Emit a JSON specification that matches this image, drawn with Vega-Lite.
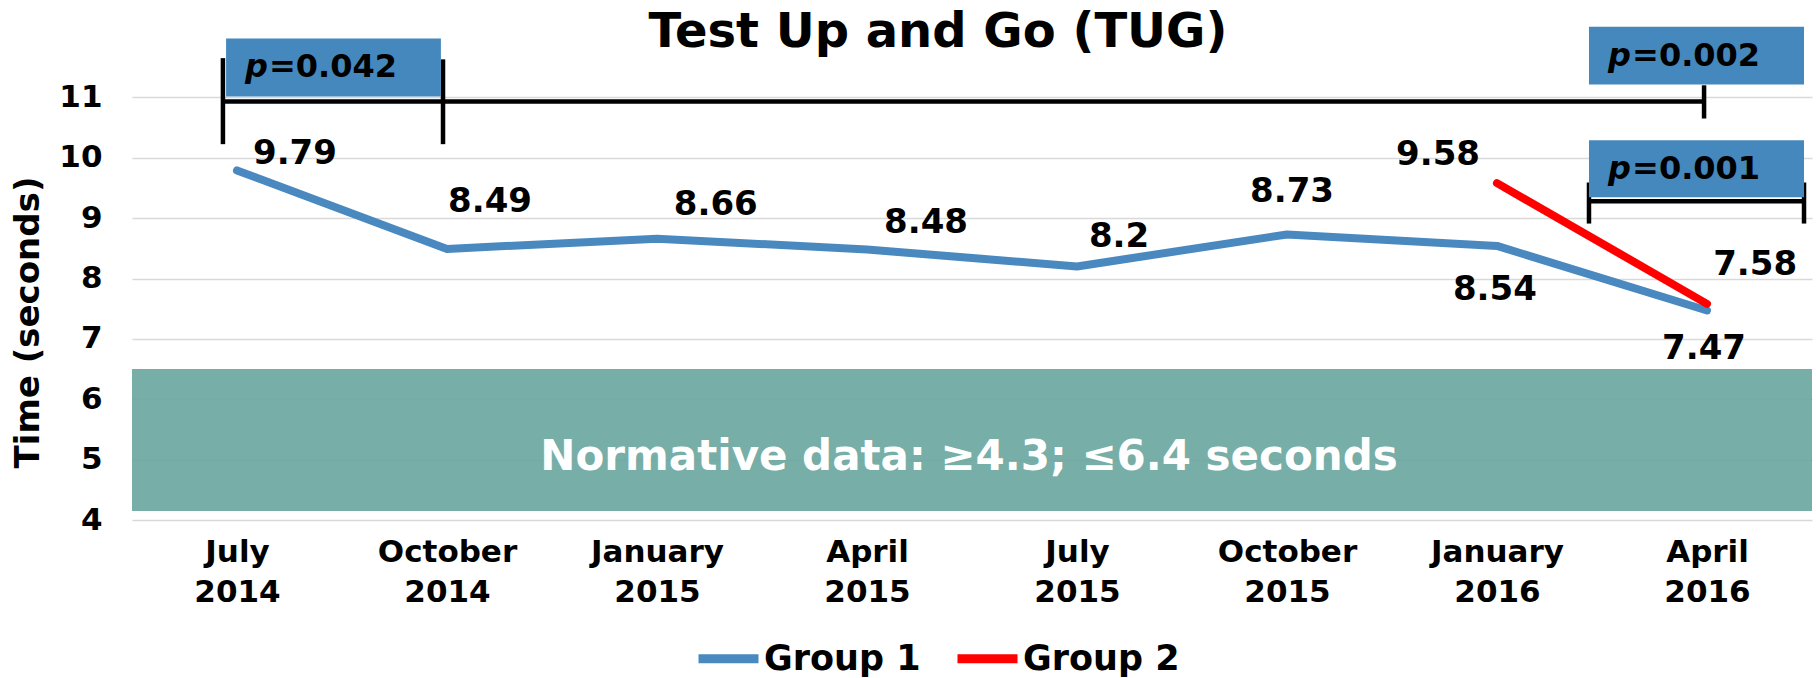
{
  "$schema": "https://vega.github.io/schema/vega-lite/v6.json",
  "width": 1680,
  "height": 483,
  "autosize": {"type": "none"},
  "padding": {"left": 132, "top": 37, "right": 4, "bottom": 158},
  "background": "white",
  "config": {"view": {"stroke": null}, "font": "DejaVu Sans"},
  "datasets": {
    "series": [
      {"period": "July 2014", "idx": 0, "group": "Group 1", "value": 9.79, "lx": 0.276, "ly": 10.065},
      {"period": "October 2014", "idx": 1, "group": "Group 1", "value": 8.49, "lx": 1.205, "ly": 9.26},
      {"period": "January 2015", "idx": 2, "group": "Group 1", "value": 8.66, "lx": 2.28, "ly": 9.21},
      {"period": "April 2015", "idx": 3, "group": "Group 1", "value": 8.48, "lx": 3.281, "ly": 8.915},
      {"period": "July 2015", "idx": 4, "group": "Group 1", "value": 8.2, "lx": 4.2, "ly": 8.68},
      {"period": "October 2015", "idx": 5, "group": "Group 1", "value": 8.73, "lx": 5.024, "ly": 9.43},
      {"period": "January 2016", "idx": 6, "group": "Group 1", "value": 8.54, "lx": 5.99, "ly": 7.81},
      {"period": "April 2016", "idx": 7, "group": "Group 1", "value": 7.47, "lx": 6.986, "ly": 6.83},
      {"period": "January 2016", "idx": 6, "group": "Group 2", "value": 9.58, "lx": 5.719, "ly": 10.04},
      {"period": "April 2016", "idx": 7, "group": "Group 2", "value": 7.58, "lx": 7.229, "ly": 8.22}
    ],
    "band": [
      {"low": 4.15, "high": 6.5, "note": "Normative data: ≥4.3; ≤6.4 seconds", "tx": 3.486, "ty": 5.05}
    ],
    "brackets": [
      {"x": -0.067, "x2": 6.986, "y": 10.93, "y2": 10.93},
      {"x": -0.067, "x2": -0.067, "y": 10.225, "y2": 11.65},
      {"x": 0.981, "x2": 0.981, "y": 10.225, "y2": 11.63},
      {"x": 6.986, "x2": 6.986, "y": 10.65, "y2": 11.2},
      {"x": 6.438, "x2": 7.462, "y": 9.28, "y2": 9.28},
      {"x": 6.438, "x2": 6.438, "y": 8.91, "y2": 9.59},
      {"x": 7.462, "x2": 7.462, "y": 8.91, "y2": 9.59}
    ],
    "pboxes": [
      {"x1": -0.052, "x2": 0.971, "y1": 11.016, "y2": 11.976, "px": 0.038, "py": 11.5, "pval": "=0.042"},
      {"x1": 6.438, "x2": 7.462, "y1": 11.215, "y2": 12.17, "px": 6.529, "py": 11.69, "pval": "=0.002"},
      {"x1": 6.438, "x2": 7.462, "y1": 9.345, "y2": 10.29, "px": 6.529, "py": 9.82, "pval": "=0.001"}
    ],
    "heading": [
      {"title": "Test Up and Go (TUG)", "tx": 3.338, "ty": 12.06}
    ]
  },
  "layer": [
    {
      "data": {"name": "band"},
      "mark": {"type": "rect", "color": "#68A59D", "opacity": 0.9},
      "encoding": {
        "y": {"field": "low", "type": "quantitative", "scale": {"domain": [4, 12], "nice": false, "zero": false}, "title": "Time (seconds)"},
        "y2": {"field": "high"}
      }
    },
    {
      "data": {"name": "band"},
      "mark": {"type": "text", "color": "white", "fontWeight": "bold", "fontSize": 42, "align": "center", "baseline": "middle"},
      "encoding": {
        "x": {"field": "tx", "type": "quantitative", "scale": {"domain": [-0.5, 7.5], "nice": false, "zero": false}, "title": null},
        "y": {"field": "ty", "type": "quantitative", "scale": {"domain": [4, 12], "nice": false, "zero": false}, "title": "Time (seconds)"},
        "text": {"field": "note"}
      }
    },
    {
      "data": {"name": "series"},
      "mark": {"type": "line", "strokeWidth": 8, "strokeCap": "round", "strokeJoin": "round"},
      "encoding": {
        "x": {
          "field": "idx", "type": "quantitative",
          "scale": {"domain": [-0.5, 7.5], "nice": false, "zero": false},
          "title": null,
          "axis": {
            "values": [0, 1, 2, 3, 4, 5, 6, 7],
            "labelExpr": "split(['July 2014','October 2014','January 2015','April 2015','July 2015','October 2015','January 2016','April 2016'][datum.value], ' ')",
            "grid": false, "domain": false, "ticks": false,
            "labelPadding": 17, "labelFontSize": 31, "labelFontWeight": "bold", "labelColor": "black",
            "labelLineHeight": 40, "labelFlush": false, "labelOverlap": false, "labelFont": "DejaVu Sans"
          }
        },
        "y": {
          "field": "value", "type": "quantitative",
          "scale": {"domain": [4, 12], "nice": false, "zero": false},
          "title": "Time (seconds)",
          "axis": {
            "values": [4, 5, 6, 7, 8, 9, 10, 11],
            "format": "d",
            "grid": true, "gridColor": "#D9D9D9", "gridWidth": 1.5,
            "domain": false, "ticks": false,
            "labelPadding": 30, "labelFontSize": 31, "labelFontWeight": "bold", "labelColor": "black", "labelFont": "DejaVu Sans",
            "titleFontSize": 34, "titleFontWeight": "bold", "titleColor": "black", "titleFont": "DejaVu Sans",
            "titleX": -104, "titleY": 285, "titleAngle": -90, "titleBaseline": "middle", "titleAlign": "center"
          }
        },
        "color": {
          "field": "group", "type": "nominal",
          "scale": {"domain": ["Group 1", "Group 2"], "range": ["#4A89BF", "#FF0000"]},
          "legend": {
            "orient": "none", "legendX": 562, "legendY": 587, "direction": "horizontal", "title": null,
            "labelFontSize": 35, "labelFontWeight": "bold", "labelColor": "black", "labelFont": "DejaVu Sans",
            "symbolType": "stroke", "symbolStrokeWidth": 9, "symbolSize": 3600, "columnPadding": 18, "labelOffset": 1, "labelLimit": 0
          }
        }
      }
    },
    {
      "data": {"name": "series"},
      "mark": {"type": "text", "color": "black", "fontWeight": "bold", "fontSize": 34, "align": "center", "baseline": "middle"},
      "encoding": {
        "x": {"field": "lx", "type": "quantitative", "scale": {"domain": [-0.5, 7.5], "nice": false, "zero": false}, "title": null},
        "y": {"field": "ly", "type": "quantitative", "scale": {"domain": [4, 12], "nice": false, "zero": false}, "title": "Time (seconds)"},
        "text": {"field": "value", "type": "nominal"}
      }
    },
    {
      "data": {"name": "brackets"},
      "mark": {"type": "rule", "color": "black", "strokeWidth": 4.5},
      "encoding": {
        "x": {"field": "x", "type": "quantitative", "scale": {"domain": [-0.5, 7.5], "nice": false, "zero": false}, "title": null},
        "x2": {"field": "x2"},
        "y": {"field": "y", "type": "quantitative", "scale": {"domain": [4, 12], "nice": false, "zero": false}, "title": "Time (seconds)"},
        "y2": {"field": "y2"}
      }
    },
    {
      "data": {"name": "pboxes"},
      "mark": {"type": "rect", "color": "#4588BD"},
      "encoding": {
        "x": {"field": "x1", "type": "quantitative", "scale": {"domain": [-0.5, 7.5], "nice": false, "zero": false}, "title": null},
        "x2": {"field": "x2"},
        "y": {"field": "y1", "type": "quantitative", "scale": {"domain": [4, 12], "nice": false, "zero": false}, "title": "Time (seconds)"},
        "y2": {"field": "y2"}
      }
    },
    {
      "data": {"name": "pboxes"},
      "mark": {"type": "text", "color": "black", "fontWeight": "bold", "fontStyle": "italic", "fontSize": 32, "align": "left", "baseline": "middle"},
      "encoding": {
        "x": {"field": "px", "type": "quantitative", "scale": {"domain": [-0.5, 7.5], "nice": false, "zero": false}, "title": null},
        "y": {"field": "py", "type": "quantitative", "scale": {"domain": [4, 12], "nice": false, "zero": false}, "title": "Time (seconds)"},
        "text": {"value": "p"}
      }
    },
    {
      "data": {"name": "pboxes"},
      "mark": {"type": "text", "color": "black", "fontWeight": "bold", "fontSize": 32, "align": "left", "baseline": "middle", "dx": 24},
      "encoding": {
        "x": {"field": "px", "type": "quantitative", "scale": {"domain": [-0.5, 7.5], "nice": false, "zero": false}, "title": null},
        "y": {"field": "py", "type": "quantitative", "scale": {"domain": [4, 12], "nice": false, "zero": false}, "title": "Time (seconds)"},
        "text": {"field": "pval"}
      }
    },
    {
      "data": {"name": "heading"},
      "mark": {"type": "text", "color": "black", "fontWeight": "bold", "fontSize": 48, "align": "center", "baseline": "middle"},
      "encoding": {
        "x": {"field": "tx", "type": "quantitative", "scale": {"domain": [-0.5, 7.5], "nice": false, "zero": false}, "title": null},
        "y": {"field": "ty", "type": "quantitative", "scale": {"domain": [4, 12], "nice": false, "zero": false}, "title": "Time (seconds)"},
        "text": {"field": "title"}
      }
    }
  ]
}
